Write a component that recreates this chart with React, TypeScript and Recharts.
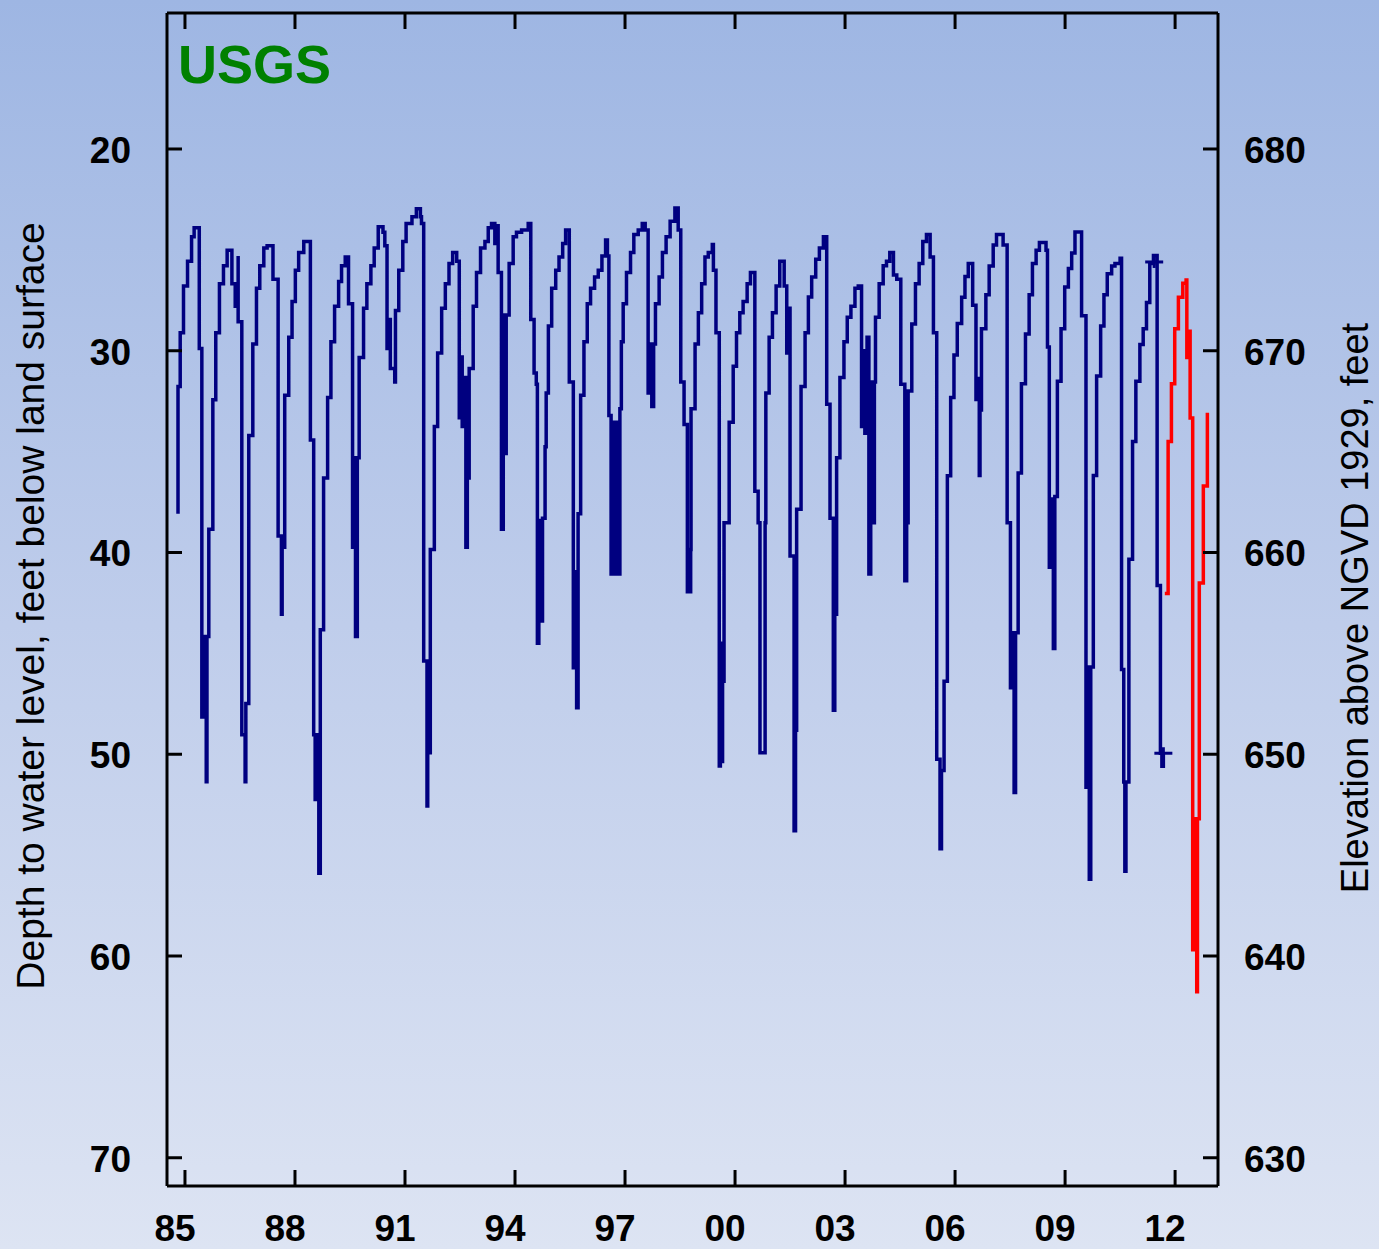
import { ComposedChart, Line, Scatter, XAxis, YAxis } from "recharts";

// Depth to water below land surface (ft). Approved record.
const histDates = [
  1984.81, 1984.81, 1984.87, 1984.96, 1985.07, 1985.18, 1985.25, 1985.39, 1985.46, 1985.53, 1985.55, 1985.58, 1985.6, 1985.65, 1985.76, 1985.84, 1985.94,
  1986.05, 1986.15, 1986.28, 1986.37, 1986.45, 1986.45, 1986.55, 1986.64, 1986.66, 1986.74, 1986.85, 1986.95, 1986.95,
  1987.04, 1987.15, 1987.24, 1987.4, 1987.54, 1987.54, 1987.63, 1987.65, 1987.72, 1987.83, 1987.92,
  1988.01, 1988.1, 1988.24, 1988.42, 1988.51, 1988.55, 1988.6, 1988.65, 1988.69, 1988.78, 1988.89, 1988.98,
  1989.08, 1989.19, 1989.27, 1989.37, 1989.46, 1989.57, 1989.6, 1989.65, 1989.7, 1989.75, 1989.87, 1989.96,
  1990.07, 1990.16, 1990.27, 1990.4, 1990.45, 1990.51, 1990.55, 1990.6, 1990.72, 1990.74, 1990.83, 1990.94,
  1991.03, 1991.19, 1991.31, 1991.42, 1991.45, 1991.51, 1991.6, 1991.62, 1991.69, 1991.8, 1991.89,
  1992.0, 1992.1, 1992.2, 1992.3, 1992.41, 1992.48, 1992.56, 1992.56, 1992.62, 1992.66, 1992.7, 1992.75, 1992.86, 1992.95,
  1993.06, 1993.18, 1993.27, 1993.36, 1993.45, 1993.5, 1993.54, 1993.63, 1993.68, 1993.73, 1993.76, 1993.84, 1993.95,
  1994.04, 1994.18, 1994.36, 1994.43, 1994.52, 1994.58, 1994.61, 1994.65, 1994.71, 1994.75, 1994.82, 1994.85, 1994.91,
  1995.0, 1995.11, 1995.2, 1995.3, 1995.38, 1995.48, 1995.59, 1995.63, 1995.68, 1995.72, 1995.79, 1995.88, 1995.97,
  1996.06, 1996.17, 1996.27, 1996.37, 1996.47, 1996.52, 1996.56, 1996.62, 1996.7, 1996.77, 1996.86, 1996.9, 1996.95,
  1997.04, 1997.15, 1997.24, 1997.36, 1997.47, 1997.55, 1997.63, 1997.68, 1997.73, 1997.78, 1997.83, 1997.93,
  1998.02, 1998.12, 1998.23, 1998.36, 1998.45, 1998.52, 1998.61, 1998.7, 1998.79, 1998.8, 1998.91,
  1999.0, 1999.09, 1999.18, 1999.27, 1999.38, 1999.41, 1999.48, 1999.57, 1999.6, 1999.63, 1999.66, 1999.7, 1999.84, 1999.95,
  2000.04, 2000.13, 2000.22, 2000.33, 2000.42, 2000.54, 2000.63, 2000.68, 2000.82, 2000.84, 2000.93,
  2001.02, 2001.12, 2001.22, 2001.34, 2001.41, 2001.45, 2001.5, 2001.61, 2001.65, 2001.68, 2001.8, 2001.91,
  2002.0, 2002.09, 2002.2, 2002.3, 2002.41, 2002.5, 2002.59, 2002.68, 2002.72, 2002.77, 2002.86, 2002.97,
  2003.06, 2003.16, 2003.27, 2003.36, 2003.45, 2003.5, 2003.54, 2003.6, 2003.65, 2003.7, 2003.72, 2003.8, 2003.83, 2003.93,
  2004.04, 2004.13, 2004.22, 2004.32, 2004.41, 2004.52, 2004.63, 2004.68, 2004.72, 2004.82, 2004.92,
  2005.02, 2005.12, 2005.22, 2005.32, 2005.41, 2005.5, 2005.59, 2005.63, 2005.7, 2005.79, 2005.88, 2005.97,
  2006.06, 2006.18, 2006.27, 2006.36, 2006.48, 2006.57, 2006.6, 2006.66, 2006.68, 2006.72, 2006.84, 2006.93,
  2007.04, 2007.13, 2007.31, 2007.42, 2007.51, 2007.56, 2007.61, 2007.65, 2007.72, 2007.81, 2007.92,
  2008.02, 2008.11, 2008.21, 2008.3, 2008.48, 2008.52, 2008.57, 2008.62, 2008.68, 2008.72, 2008.79, 2008.89, 2008.99,
  2009.09, 2009.18, 2009.27, 2009.45, 2009.57, 2009.6, 2009.66, 2009.7, 2009.77, 2009.86, 2009.97,
  2010.06, 2010.15, 2010.27, 2010.36, 2010.5, 2010.54, 2010.6, 2010.63, 2010.66, 2010.74, 2010.84, 2010.93,
  2011.04, 2011.13, 2011.22, 2011.31, 2011.41, 2011.51, 2011.6, 2011.64, 2011.68,
];
const histDepths = [
  38.08, 31.77, 29.11, 26.79, 25.57, 24.35, 23.91, 29.89, 48.15, 44.16, 48.15, 51.36, 44.16, 38.85, 32.43, 29.11, 26.68,
  25.79, 25.02, 26.68, 27.79, 25.31, 28.56, 49.03, 51.36, 47.48, 34.2, 29.67, 28.45, 26.9,
  25.79, 24.91, 24.8, 26.46, 29.67, 39.18, 43.06, 39.74, 32.21, 29.33, 27.56,
  26.01, 25.13, 24.58, 34.43, 49.03, 52.24, 49.03, 55.9, 43.83, 36.31, 32.32, 29.56,
  27.79, 26.57, 25.79, 25.35, 27.67, 39.74, 35.31, 44.16, 35.31, 30.33, 27.9, 26.68,
  25.79, 24.91, 23.85, 24.13, 24.8, 29.89, 28.45, 30.88, 31.55, 28.01, 26.01, 24.58,
  23.69, 23.36, 22.96, 23.36, 23.69, 45.38, 52.57, 49.92, 39.85, 33.76, 30.11,
  27.9, 26.68, 25.68, 25.13, 25.57, 33.32, 30.22, 33.76, 31.33, 39.74, 36.31, 30.88, 27.79, 26.12,
  24.91, 24.58, 23.91, 23.69, 24.69, 23.8, 26.12, 38.85, 28.23, 35.09, 28.23, 25.68, 24.35,
  24.13, 24.02, 23.69, 28.45, 31.1, 31.66, 44.5, 38.41, 43.39, 38.3, 34.76, 32.1, 28.78,
  26.9, 26.01, 25.35, 24.69, 24.02, 31.55, 45.71, 40.95, 47.7, 38.08, 32.21, 29.56, 27.67,
  26.9, 26.35, 26.01, 25.31, 24.51, 25.31, 33.21, 41.07, 33.54, 41.07, 32.88, 29.56, 27.67,
  26.12, 25.13, 24.24, 24.02, 23.69, 24.02, 32.1, 29.67, 32.77, 29.67, 27.67, 26.35,
  25.13, 24.35, 23.58, 22.92, 24.02, 31.55, 33.65, 41.95, 39.85, 32.88, 29.67,
  28.12, 26.68, 25.35, 25.13, 24.73, 26.01, 29.11, 50.58, 44.5, 50.36, 46.38, 38.52, 33.54, 30.77,
  29.11, 28.12, 27.56, 26.68, 26.12, 36.97, 38.52, 49.92, 38.52, 32.1, 29.33,
  28.12, 26.79, 25.57, 26.79, 30.11, 27.9, 40.18, 53.79, 48.81, 37.86, 31.77, 29.11,
  27.34, 26.35, 25.46, 24.91, 24.35, 32.65, 38.3, 47.82, 43.06, 35.31, 31.33, 29.56,
  28.34, 27.79, 26.9, 26.79, 33.76, 30.0, 34.09, 29.33, 41.07, 31.55, 38.52, 31.55, 28.34, 26.68,
  25.79, 25.57, 25.13, 26.24, 26.46, 31.66, 41.4, 38.52, 31.99, 28.67, 26.68,
  25.68, 24.58, 24.24, 25.35, 29.11, 50.25, 54.68, 50.8, 46.38, 36.2, 32.32, 30.21,
  28.65, 27.35, 26.32, 25.67, 27.74, 32.42, 31.38, 36.19, 32.94, 28.91, 27.22, 25.8,
  24.76, 24.24, 24.76, 38.52, 46.71, 43.98, 51.9, 43.98, 36.06, 31.64, 29.17,
  27.22, 25.67, 25.02, 24.63, 25.02, 29.82, 40.73, 37.35, 44.76, 37.23, 31.51, 28.91, 26.84,
  25.93, 25.15, 24.11, 28.26, 51.64, 45.67, 56.19, 45.67, 36.19, 31.25, 28.78,
  27.22, 26.19, 25.8, 25.67, 25.41, 45.8, 51.38, 55.8, 51.38, 40.34, 34.5, 31.51,
  29.69, 28.91, 27.61, 25.67, 25.28, 41.64, 49.95, 50.6, 49.95,
];

// Provisional record (red).
const provDates = [2011.72, 2011.81, 2011.9, 2011.99, 2012.09, 2012.21, 2012.3, 2012.32, 2012.39, 2012.41, 2012.48, 2012.55, 2012.59, 2012.61, 2012.66, 2012.77, 2012.88];
const provDepths = [42.03, 34.5, 31.64, 28.91, 27.35, 26.65, 26.5, 30.34, 29.04, 33.33, 59.69, 53.2, 61.77, 53.2, 41.51, 36.71, 33.07];

const markDates = [2011.43, 2011.68];
const markDepths = [25.6, 49.95];

const yearTicks = [1985, 1988, 1991, 1994, 1997, 2000, 2003, 2006, 2009, 2012];
const depthTicks = [20, 30, 40, 50, 60, 70];
const elevTicks = [630, 640, 650, 660, 670, 680];

const hist = histDates.map((t, i) => ({ t, d: histDepths[i] }));
const prov = provDates.map((t, i) => ({ t, d: provDepths[i] }));
const marks = markDates.map((t, i) => ({ t, d: markDepths[i] }));

const FONT = "'Liberation Sans', Arial, Helvetica, sans-serif";
const label = { fontSize: 37, fontWeight: "bold" as const, fill: "#000", fontFamily: FONT };

const LeftTick = ({ x, y, payload }: any) => (
  <g>
    <line x1={x} x2={x + 15} y1={y} y2={y} stroke="#000" strokeWidth={3} />
    <text x={x - 36} y={y} dy={14} textAnchor="end" {...label}>{payload.value}</text>
  </g>
);
const RightTick = ({ x, y, payload }: any) => (
  <g>
    <line x1={x - 15} x2={x} y1={y} y2={y} stroke="#000" strokeWidth={3} />
    <text x={x + 26} y={y} dy={14} textAnchor="start" {...label}>{payload.value}</text>
  </g>
);
const BottomTick = ({ x, y, payload }: any) => (
  <g>
    <line x1={x} x2={x} y1={y - 16} y2={y} stroke="#000" strokeWidth={3} />
    <text x={x - 10} y={y + 55} textAnchor="middle" {...label}>{String(payload.value % 100).padStart(2, "0")}</text>
  </g>
);
const TopTick = ({ x, y }: any) => <line x1={x} x2={x} y1={y} y2={y + 16} stroke="#000" strokeWidth={3} />;

const Plus = ({ cx, cy }: any) => (
  <g stroke="#000080" strokeWidth={3}>
    <line x1={cx - 9} x2={cx + 9} y1={cy} y2={cy} />
    <line x1={cx} x2={cx} y1={cy - 6} y2={cy + 6} />
  </g>
);

export default function App() {
  return (
    <div style={{ position: "relative", width: 1379, height: 1249, background: "linear-gradient(to bottom, #9eb6e3 0%, #bfcdeb 50%, #dde4f3 100%)" }}>
      <style>{"body{margin:0}"}</style>
      <ComposedChart width={1379} height={1249} margin={{ top: 0, right: 61, bottom: 13, left: 67 }}>
        <XAxis xAxisId="b" dataKey="t" type="number" domain={[1984.51, 2013.17]} allowDataOverflow ticks={yearTicks} interval={0}
          tick={<BottomTick />} tickLine={false} tickSize={0} tickMargin={0} height={50} axisLine={{ stroke: "#000", strokeWidth: 3 }} />
        <XAxis xAxisId="top" orientation="top" dataKey="t" type="number" domain={[1984.51, 2013.17]} allowDataOverflow ticks={yearTicks} interval={0}
          tick={<TopTick />} tickLine={false} tickSize={0} tickMargin={0} height={13} axisLine={{ stroke: "#000", strokeWidth: 3 }} />
        <YAxis yAxisId="l" dataKey="d" type="number" reversed domain={[13.26, 71.4]} allowDataOverflow ticks={depthTicks} interval={0}
          tick={<LeftTick />} tickLine={false} tickSize={0} tickMargin={0} width={100} axisLine={{ stroke: "#000", strokeWidth: 3 }} />
        <YAxis yAxisId="r" orientation="right" type="number" domain={[628.6, 686.74]} allowDataOverflow ticks={elevTicks} interval={0}
          tick={<RightTick />} tickLine={false} tickSize={0} tickMargin={0} width={100} axisLine={{ stroke: "#000", strokeWidth: 3 }} />
        <Line xAxisId="b" yAxisId="l" data={hist} dataKey="d" type="stepAfter" stroke="#000080" strokeWidth={3.5} dot={false} isAnimationActive={false} strokeLinejoin="miter" />
        <Line xAxisId="b" yAxisId="l" data={prov} dataKey="d" type="stepAfter" stroke="#ff0000" strokeWidth={3.5} dot={false} isAnimationActive={false} strokeLinejoin="miter" />
        <Scatter xAxisId="b" yAxisId="l" data={marks} dataKey="d" shape={<Plus />} isAnimationActive={false} />
      </ComposedChart>
      <svg width={1379} height={1249} style={{ position: "absolute", left: 0, top: 0, pointerEvents: "none" }} fontFamily={FONT}>
        <text x={178} y={83} fontSize={54} fontWeight="bold" fill="#008000">USGS</text>
        <text x={44} y={606} transform="rotate(-90 44 606)" textAnchor="middle" fontSize={39} fill="#000">Depth to water level, feet below land surface</text>
        <text x={1368} y={608} transform="rotate(-90 1368 608)" textAnchor="middle" fontSize={38} fill="#000">Elevation above NGVD 1929, feet</text>
      </svg>
    </div>
  );
}
